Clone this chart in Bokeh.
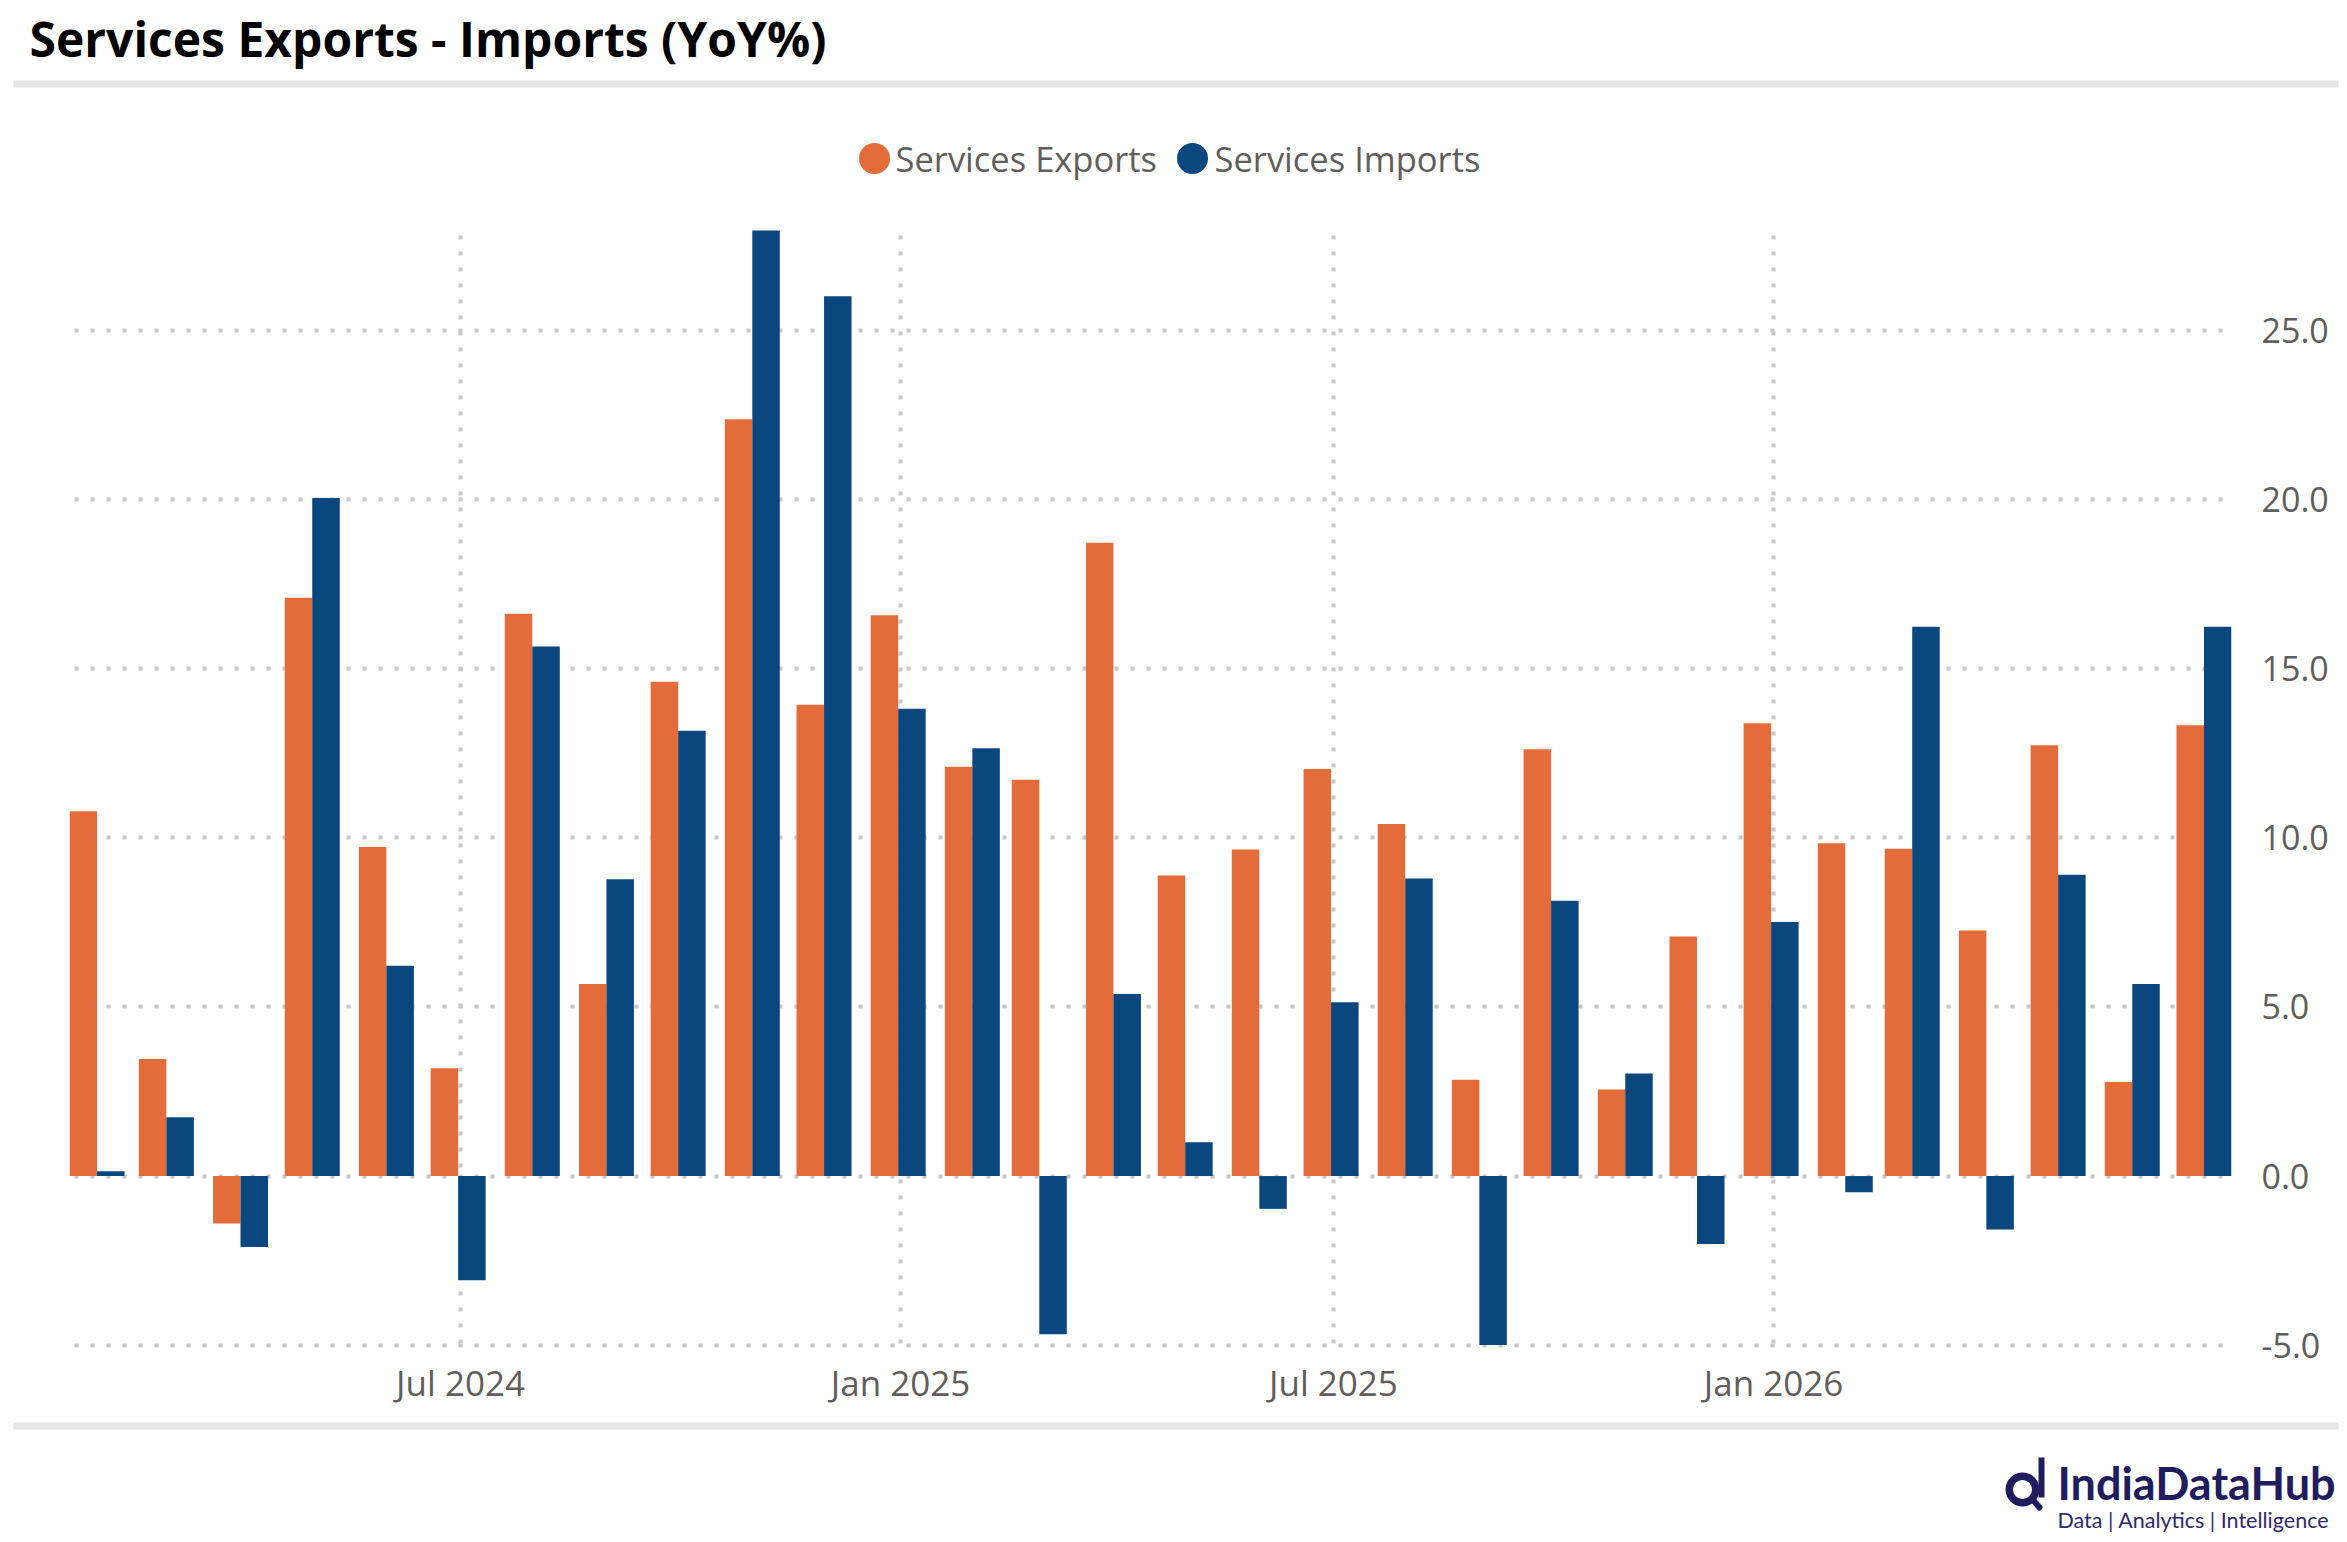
import pandas as pd
from bokeh.plotting import figure
from bokeh.layouts import column
from bokeh.models import Range1d, FixedTicker, NumeralTickFormatter, ColumnDataSource, DatetimeTickFormatter
from bokeh.transform import dodge
from bokeh.core.properties import value
from bokeh.embed import file_html
from bokeh.resources import INLINE

# ---------------- data ----------------
months = ["2024-01-31", "2024-02-29", "2024-03-31", "2024-04-30", "2024-05-31", "2024-06-30",
          "2024-07-31", "2024-08-31", "2024-09-30", "2024-10-31", "2024-11-30", "2024-12-31",
          "2025-01-31", "2025-02-28", "2025-03-31", "2025-04-30", "2025-05-31", "2025-06-30",
          "2025-07-31", "2025-08-31", "2025-09-30", "2025-10-31", "2025-11-30", "2025-12-31",
          "2026-01-31", "2026-02-28", "2026-03-31", "2026-04-30", "2026-05-31", "2026-06-30"]
services_exports = [10.79, 3.46, -1.40, 17.10, 9.73, 3.19, 16.63, 5.68, 14.62, 22.38,
                    13.94, 16.58, 12.10, 11.72, 18.73, 8.89, 9.66, 12.04, 10.41, 2.85,
                    12.62, 2.56, 7.08, 13.39, 9.84, 9.68, 7.26, 12.74, 2.78, 13.33]
services_imports = [0.14, 1.74, -2.10, 20.05, 6.22, -3.08, 15.66, 8.78, 13.17, 27.96,
                    26.02, 13.82, 12.65, -4.68, 5.38, 1.00, -0.97, 5.14, 8.80, -5.00,
                    8.14, 3.03, -2.01, 7.51, -0.48, 16.24, -1.58, 8.91, 5.68, 16.24]
series_names = ["Services Exports", "Services Imports"]
x_tick_dates = ["2024-07-01", "2025-01-01", "2025-07-01", "2026-01-01"]
x_tick_labels = ["Jul 2024", "Jan 2025", "Jul 2025", "Jan 2026"]
y_ticks = [-5, 0, 5, 10, 15, 20, 25]
title_text = "Services Exports - Imports (YoY%)"
brand_name = "IndiaDataHub"
brand_tag = "Data | Analytics | Intelligence"

# ---------------- style ----------------
ORANGE = "#E46C3A"
BLUE = "#0A477F"
GRID = "#C8C8C8"
LABEL = "#605E5C"
RULE = "#E6E6E6"
NAVY = "#201C5E"
FONT = "Open Sans"

W = 2345
H_HEAD, H_MAIN, H_FOOT = 200, 1210, 130


def no_align(f):
    if "frame_align" in f.properties():
        f.frame_align = False


def blank(h):
    f = figure(width=W, height=h, output_backend="svg", toolbar_location=None,
               x_axis_location=None, y_axis_location=None,
               x_range=Range1d(0, W), y_range=Range1d(h, 0),
               min_border=0, min_border_left=0, min_border_right=0,
               min_border_top=0, min_border_bottom=0, outline_line_color=None)
    f.xgrid.visible = False
    f.ygrid.visible = False
    f.background_fill_color = "white"
    f.border_fill_color = "white"
    no_align(f)
    return f


# ---------------- header ----------------
head = blank(H_HEAD)
head.text(x=[29], y=[38], text=[title_text], text_font=value(FONT), text_font_style="bold",
          text_font_size="48px", text_color="#000000", text_baseline="middle")
head.segment(x0=[13], y0=[83.5], x1=[2338], y1=[83.5], line_color=RULE, line_width=7)
head.scatter(x=[874, 1192], y=[158, 158], size=31, marker="circle",
             fill_color=[ORANGE, BLUE], line_color=None)
head.text(x=[895, 1214], y=[158, 158], text=series_names, text_font=value(FONT),
          text_font_size="34.5px", text_color=LABEL, text_baseline="middle")

# ---------------- main chart ----------------
dates = pd.to_datetime(months)
src = ColumnDataSource(dict(date=dates, exp=services_exports, imp=services_imports))

DAY = 86400000.0
bar_w = 11.5 * DAY

p = figure(width=W, height=H_MAIN, output_backend="svg", toolbar_location=None,
           x_axis_type="datetime", y_axis_location="right",
           x_range=Range1d(pd.Timestamp("2024-01-19 12:00"), pd.Timestamp("2026-07-11 12:00")),
           y_range=Range1d(-5.1, 28.05),
           min_border_left=69, min_border_right=114, min_border_top=27, min_border_bottom=62,
           outline_line_color=None)
p.background_fill_color = "white"
p.border_fill_color = "white"
no_align(p)

p.vbar(x=dodge("date", -bar_w / 2, range=p.x_range), top="exp", width=bar_w, source=src,
       fill_color=ORANGE, line_color=None)
p.vbar(x=dodge("date", bar_w / 2, range=p.x_range), top="imp", width=bar_w, source=src,
       fill_color=BLUE, line_color=None)

tick_ms = [pd.Timestamp(d).value / 1e6 for d in x_tick_dates]
p.xaxis.ticker = FixedTicker(ticks=tick_ms)
p.xaxis.formatter = DatetimeTickFormatter(days="%b %Y", months="%b %Y", years="%b %Y")
p.xaxis.major_label_overrides = {t: l for t, l in zip(tick_ms, x_tick_labels)}
p.yaxis.ticker = FixedTicker(ticks=y_ticks)
p.yaxis.formatter = NumeralTickFormatter(format="0.0")

for ax in (p.xaxis[0], p.yaxis[0]):
    ax.axis_line_color = None
    ax.major_tick_line_color = None
    ax.minor_tick_line_color = None
    ax.major_tick_out = 0
    ax.major_tick_in = 0
    ax.major_label_text_font = FONT
    ax.major_label_text_color = LABEL
p.xaxis.major_label_text_font_size = "35px"
p.yaxis.major_label_text_font_size = "34px"
p.xaxis.major_label_standoff = 10
p.yaxis.major_label_standoff = 30

for g in (p.xgrid[0], p.ygrid[0]):
    g.grid_line_color = GRID
    g.grid_line_width = 4
    g.grid_line_dash = "4 12"
    g.grid_line_dash_offset = 11

# ---------------- footer ----------------
foot = blank(H_FOOT)
foot.segment(x0=[13], y0=[15.5], x1=[2338], y1=[15.5], line_color=RULE, line_width=7)
foot.annulus(x=[2022], y=[79], inner_radius=9.5, outer_radius=17, fill_color=NAVY, line_color=None)
foot.quad(left=[2038], right=[2044], top=[47], bottom=[87], fill_color=NAVY, line_color=None)
foot.segment(x0=[2033], y0=[90], x1=[2039], y1=[97], line_color=NAVY, line_width=6, line_cap="round")
foot.text(x=[2057], y=[72], text=[brand_name], text_font=value("Lato"), text_font_style="bold",
          text_font_size="45px", text_color=NAVY, text_baseline="middle")
foot.text(x=[2057], y=[109], text=[brand_tag], text_font=value("Lato"),
          text_font_size="21.5px", text_color="#2E2A6B", text_baseline="middle")

layout = column(head, p, foot, spacing=0)
open("out.html", "w").write(file_html(layout, INLINE))
